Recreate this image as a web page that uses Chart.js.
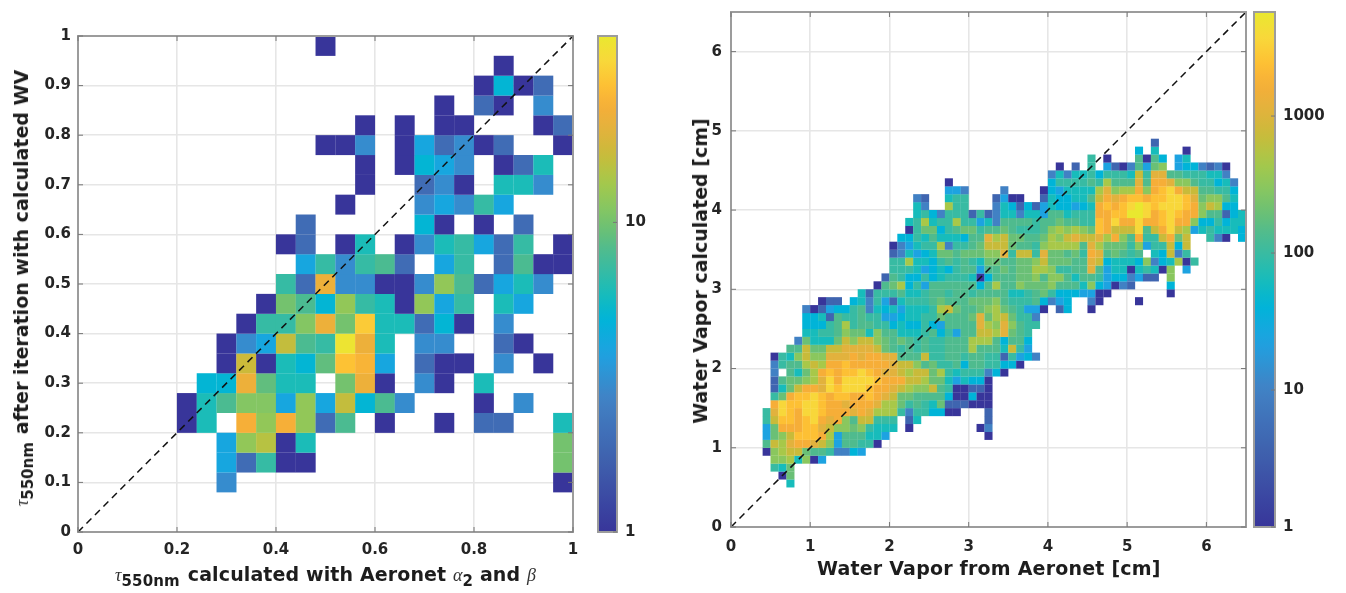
<!DOCTYPE html>
<html><head><meta charset="utf-8">
<script src="https://cdn.jsdelivr.net/npm/chart.js@4"></script>
<style>
html,body{margin:0;padding:0;background:#fff;width:1346px;height:593px;overflow:hidden}
canvas{position:absolute;top:0;filter:blur(0.5px)}
.lab{position:absolute;white-space:nowrap;font:bold 19px "DejaVu Sans",sans-serif;color:#1d1d1d;line-height:20px;filter:blur(0.3px)}
.rot{transform:translate(-50%,-50%) rotate(-90deg);transform-origin:center}
.m{font:italic 18px "Liberation Serif",serif;color:#333}
sub{font-size:15px;line-height:0;vertical-align:-5px}
.g{margin-left:8px}
</style></head><body>
<canvas id="heatL" width="590" height="593" style="left:0"></canvas>
<canvas id="barL" width="70" height="593" style="left:590px"></canvas>
<canvas id="heatR" width="660" height="593" style="left:650px"></canvas>
<canvas id="barR" width="92" height="593" style="left:1250px"></canvas>
<div class="lab" style="left:115px;top:564px;letter-spacing:0.12px"><span class="m">τ</span><sub>550nm</sub><span class="g">calculated with Aeronet</span> <span class="m">α</span><sub>2</sub> and <span class="m">β</span></div>
<div class="lab rot" style="left:22px;top:288px"><span class="m">τ</span><sub>550nm</sub><span class="g">after iteration with calculated WV</span></div>
<div class="lab" style="left:817px;top:558px;letter-spacing:0.2px">Water Vapor from Aeronet [cm]</div>
<div class="lab rot" style="left:700px;top:271px">Water Vapor calculated [cm]</div>
<script>
// ---------- left histogram: bins of 0.04, [rowIndexFromBottom, [col,count], ...]
const leftBinCount = 25, leftMax = 1, leftColorMax = 40;
const leftTicksX = [0,0.2,0.4,0.6,0.8,1];
const leftTicksY = [0,0.1,0.2,0.3,0.4,0.5,0.6,0.7,0.8,0.9,1];
const leftRows = [
 [2,[7,3],[24,1]],
 [3,[7,4],[8,2],[9,7],[10,1],[11,1],[24,10]],
 [4,[7,4],[8,12],[9,15],[10,1],[11,6],[24,10]],
 [5,[5,1],[6,6],[8,24],[9,12],[10,24],[11,12],[12,2],[13,8],[15,1],[18,1],[20,2],[21,2],[24,6]],
 [6,[5,1],[6,6],[7,8],[8,11],[9,11],[10,4],[11,12],[12,4],[13,16],[14,5],[15,8],[16,3],[20,1],[22,3]],
 [7,[6,5],[7,5],[8,22],[9,9],[10,6],[11,6],[13,10],[14,22],[15,1],[17,3],[18,1],[20,6]],
 [8,[7,1],[8,17],[9,1],[10,6],[11,5],[12,9],[13,28],[14,25],[15,4],[17,2],[18,1],[19,1],[21,3],[23,1]],
 [9,[7,1],[8,3],[9,4],[10,16],[11,8],[12,7],[13,38],[14,22],[15,6],[17,3],[18,3],[21,2],[22,1]],
 [10,[8,1],[9,7],[10,7],[11,11],[12,22],[13,10],[14,30],[15,6],[16,6],[17,2],[18,5],[19,1],[21,3]],
 [11,[9,1],[10,10],[11,8],[12,5],[13,12],[14,7],[15,6],[16,1],[17,12],[18,4],[19,7],[21,6],[22,4]],
 [12,[10,7],[11,2],[12,22],[13,3],[14,3],[15,1],[16,1],[17,3],[18,12],[19,8],[20,2],[21,4],[22,6],[23,3]],
 [13,[11,4],[12,7],[13,3],[14,7],[15,8],[16,2],[18,4],[19,7],[21,2],[22,8],[23,1],[24,1]],
 [14,[10,1],[11,2],[13,1],[14,6],[16,1],[17,3],[18,6],[19,7],[20,4],[21,2],[22,7],[24,1]],
 [15,[11,2],[17,5],[18,1],[20,1],[22,2]],
 [16,[13,1],[17,3],[18,4],[19,3],[20,7],[21,4]],
 [17,[14,1],[17,2],[18,3],[19,1],[21,6],[22,6],[23,3]],
 [18,[14,1],[16,1],[17,5],[18,4],[19,3],[21,1],[22,2],[23,6]],
 [19,[12,1],[13,1],[14,3],[16,1],[17,4],[18,2],[19,3],[20,1],[21,2],[24,1]],
 [20,[14,1],[16,1],[18,1],[19,1],[23,1],[24,2]],
 [21,[18,1],[20,2],[21,1],[23,3]],
 [22,[20,1],[21,5],[22,1],[23,2]],
 [23,[21,1]],
 [24,[12,1]]
];
// ---------- right histogram: bins of 0.1 cm. Each row: [rowIndexFromBottom, firstCol, code string]
// every code is an index into rightLevelCounts ('.' = empty bin)
const rightBinWidth = 0.1, rightMax = 6.5, rightColorMax = 5750;
const rightTicks = [0,1,2,3,4,5,6];
const rightLevelCounts = [1,4,10,23,41,64,98,138,195,303,468,720,1110,1700,2400,3650,5750];
const rightRows = [
 [5,7,"6"],
 [6,6,"19"],
 [7,5,"769"],
 [8,5,"aab6a14"],
 [9,4,"1abcc98873354"],
 [10,4,"8cbdeedca488771"],
 [11,4,"49acfffeb4888664............1"],
 [12,4,"49eeeffdcaa9a7666.1........13"],
 [13,4,"7cffefgedea8cc777.26........2"],
 [14,4,"7dgfeggfeeededbbb73775511...2"],
 [15,5,"egffggfeedeeedbb978769222111"],
 [16,5,"79effgfeffeefedc998888511511"],
 [17,5,"269ceedgfgggfeedcbaac8711221"],
 [18,5,"2899abdgeggggfeeeccb99646551"],
 [19,5,"3.869befeffgfeddcbcc9b76777351"],
 [20,5,"3788bcbeefeeeeedcca8977858877551"],
 [21,5,"176acaadddedeedd888c77887887727453"],
 [22,7,"88c99ccddddc98787877888b8886c74"],
 [23,8,"396669cacca98987877888bbb85885"],
 [24,9,"66778a996a886667857488ccbd987"],
 [25,9,"55578b7887756557548888dbada877"],
 [26,9,"5562877877445667798889d9bc9773"],
 [27,9,"3124557836564666 7bc9889ab987441.25..1"],
 [28,11,"122.563742677789888999a877785345..31....1"],
 [29,16,"62777866788788788886678975554411.......1"],
 [30,18,"189b57488888858b88a999a8886a54132....5"],
 [31,19,"2875575677761588899a8aa86887455342 2.a"],
 [32,20,"777645657884889899bba7788d846616761a.4"],
 [33,20,"77b665787876998899ac99988dc56665a356b17"],
 [34,20,"236456998999aad7cc7d99897ed89878.65c37"],
 [35,20,"134677b37789ccc9887abbbb8db9997a477c5c"],
 [36,21,"55768666588dbc99889bacdccdbea8e77ce9c..731.5"],
 [37,22,"17995789978898777 8abab a9fecccg8cegcb4676665"],
 [38,22,"67b677b77463888878898877fegeegeefgeea557566"],
 [39,23,"67537772723663664886777eeffhhgefgfeea88256"],
 [40,23,"63..b77...365252465545 6efefghgfgggfeacb55"],
 [41,23,"32..677...2411..2655668cedeffeffggfd9aa86"],
 [42,27,"443....3....1546666bdabbeaefgecc88775"],
 [43,27,"1............5777787b888d8eedaa877563"],
 [44,40,"36366757776c7dd88777663"],
 [45,41,"1.2.7.421384 9a.4553231"],
 [46,45,"7.1...8185.46"],
 [47,51,"5.6...1"],
 [48,53,"2"]
].map(r=>[r[0],r[1],r[2].replace(/ /g,"")]);
const colorStops = [[0,56,53,154],[.15,63,98,174],[.27,65,130,197],[.36,30,162,225],[.43,0,180,216],[.48,23,188,187],[.53,56,187,163],[.57,79,187,142],[.61,107,192,117],[.66,138,199,94],[.71,168,200,73],[.76,200,187,58],[.81,226,178,61],[.86,246,174,56],[.90,253,192,52],[.95,248,216,58],[1,233,232,47]];

function colorAt(t){
  t=Math.max(0,Math.min(1,t));
  for(let i=1;i<colorStops.length;i++){
    const a=colorStops[i-1],b=colorStops[i];
    if(t<=b[0]){const f=(t-a[0])/(b[0]-a[0]);
      return `rgb(${[1,2,3].map(n=>Math.round(a[n]+(b[n]-a[n])*f)).join(',')})`;}
  }
  return 'rgb(233,232,47)';
}
const leftPts=[];
leftRows.forEach(r=>r.slice(1).forEach(c=>leftPts.push({x:(c[0]+.5)/leftBinCount,y:(r[0]+.5)/leftBinCount,v:c[1]})));
const rightPts=[];
rightRows.forEach(([m,k0,s])=>[...s].forEach((ch,i)=>{
  if(ch==='.')return;
  rightPts.push({x:(k0+i+.5)*rightBinWidth,y:(m+.5)*rightBinWidth,v:rightLevelCounts[parseInt(ch,36)-1]});
}));

const tickFont={family:'"DejaVu Sans",sans-serif',weight:'bold',size:15};
const boxPlugin={id:'box',afterDatasetsDraw(c){
  const a=c.chartArea,g=c.ctx;g.save();
  g.strokeStyle='#9c9c9c';g.lineWidth=2;g.strokeRect(a.left,a.top,a.right-a.left,a.bottom-a.top);
  const o=c.options.plugins.box;
  g.strokeStyle='#777';g.lineWidth=1;g.beginPath();
  if(o.inner){
    c.scales.x.ticks.forEach(t=>{const p=c.scales.x.getPixelForValue(t.value);
      g.moveTo(p,a.bottom);g.lineTo(p,a.bottom-5);g.moveTo(p,a.top);g.lineTo(p,a.top+5);});
    c.scales.y.ticks.forEach(t=>{const p=c.scales.y.getPixelForValue(t.value);
      g.moveTo(a.left,p);g.lineTo(a.left+5,p);g.moveTo(a.right,p);g.lineTo(a.right-5,p);});
  } else {
    c.scales.y.ticks.forEach(t=>{const p=c.scales.y.getPixelForValue(t.value);
      g.moveTo(a.right,p);g.lineTo(a.right-4,p);});
  }
  g.stroke();
  g.restore();
}};

function heat(id,pts,cfg){
  const cell=cfg.cellPx+0.15, ratio=Math.log(cfg.colorMax);
  return new Chart(document.getElementById(id),{
    type:'scatter',
    data:{datasets:[
      {type:'line',data:[{x:0,y:0},{x:cfg.max,y:cfg.max}],borderColor:'#111',borderWidth:1.5,borderDash:[7,5],pointRadius:0,order:0,clip:true},
      {data:pts,pointStyle:'rect',pointRadius:cell/Math.SQRT2,pointHoverRadius:cell/Math.SQRT2,borderWidth:0,pointBorderWidth:0,
       pointBackgroundColor:ctx=>colorAt(Math.log(ctx.raw.v)/ratio),order:1}
    ]},
    plugins:[boxPlugin],
    options:{responsive:false,animation:false,events:[],
      layout:{padding:{left:0,top:cfg.top,right:cfg.rightPad,bottom:0}},
      plugins:{legend:{display:false},tooltip:{enabled:false},box:{inner:true}},
      scales:{
        x:{type:'linear',min:0,max:cfg.max,
           afterFit:s=>{s.height=593-cfg.bottom;s.paddingLeft=0;s.paddingRight=0;},
           afterBuildTicks:s=>{s.ticks=cfg.ticksX.map(v=>({value:v}));},
           border:{display:false},grid:{color:'#e6e6e6',lineWidth:1.6,drawTicks:false},
           ticks:{font:tickFont,color:'#252525',padding:cfg.xPad,maxRotation:0,autoSkip:false,callback:v=>String(v)}},
        y:{type:'linear',min:0,max:cfg.max,
           afterFit:s=>{s.width=cfg.left;s.paddingTop=0;s.paddingBottom=0;},
           afterBuildTicks:s=>{s.ticks=cfg.ticksY.map(v=>({value:v}));},
           border:{display:false},grid:{color:'#e6e6e6',lineWidth:1.6,drawTicks:false},
           ticks:{font:tickFont,color:'#252525',padding:cfg.yPad,autoSkip:false,callback:v=>String(v)}}
      }
    }
  });
}
heat('heatL',leftPts,{max:leftMax,colorMax:leftColorMax,cellPx:495/leftBinCount,ticksX:leftTicksX,ticksY:leftTicksY,left:78,top:36,rightPad:17,bottom:532,xPad:9,yPad:7});
heat('heatR',rightPts,{max:rightMax,colorMax:rightColorMax,cellPx:515/(rightMax/rightBinWidth),ticksX:rightTicks,ticksY:rightTicks,left:81,top:12,rightPad:64,bottom:527,xPad:11,yPad:9});

function colorbar(id,colorMax,ticks,cfg){
  return new Chart(document.getElementById(id),{
    type:'bar',
    data:{labels:['c'],datasets:[{data:[[1,colorMax]],barPercentage:1,categoryPercentage:1,borderSkipped:false,borderWidth:0,
      backgroundColor:ctx=>{
        const a=ctx.chart.chartArea; if(!a) return '#888';
        const g=ctx.chart.ctx.createLinearGradient(0,a.bottom,0,a.top);
        for(let i=0;i<=40;i++) g.addColorStop(i/40,colorAt(i/40));
        return g;
      }}]},
    plugins:[boxPlugin],
    options:{responsive:false,animation:false,events:[],
      layout:{padding:{left:cfg.x0,top:cfg.top,right:0,bottom:0}},
      plugins:{legend:{display:false},tooltip:{enabled:false},box:{inner:false}},
      scales:{
        x:{display:true,afterFit:s=>{s.height=593-cfg.bottom;s.paddingLeft=0;s.paddingRight=0;},grid:{display:false},border:{display:false},ticks:{display:false}},
        y:{type:'logarithmic',position:'right',min:1,max:colorMax,
           afterFit:s=>{s.width=cfg.axisW;s.paddingTop=0;s.paddingBottom=0;},
           afterBuildTicks:s=>{s.ticks=ticks.map(v=>({value:v}));},
           border:{display:false},grid:{display:false},
           ticks:{font:tickFont,color:'#252525',padding:0,autoSkip:false,callback:v=>String(v)}}
      }
    }
  });
}
const leftBarTicks=[1,10], rightBarTicks=[1,10,100,1000];
colorbar('barL',leftColorMax,leftBarTicks,{x0:8,top:36,bottom:532,axisW:43});
colorbar('barR',rightColorMax,rightBarTicks,{x0:4,top:12,bottom:527,axisW:67});
</script>
</body></html>
